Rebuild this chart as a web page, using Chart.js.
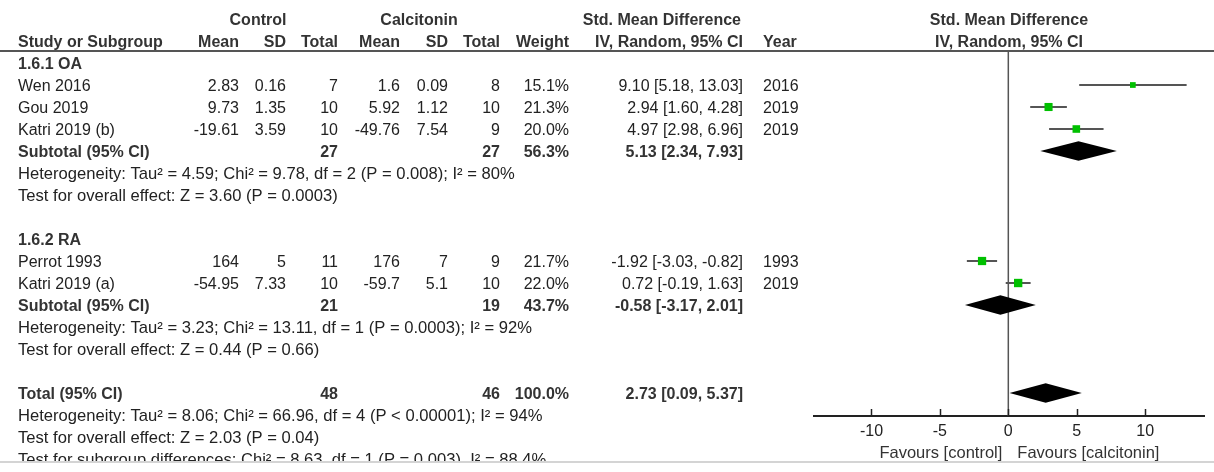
<!DOCTYPE html>
<html>
<head>
<meta charset="utf-8">
<script src="https://cdn.jsdelivr.net/npm/chart.js@4.4.1/dist/chart.umd.min.js"></script>
<style>
html, body { margin: 0; padding: 0; background: #fff; }
#wrap { position: relative; width: 1214px; height: 472px; }
</style>
</head>
<body>
<div id="wrap"><canvas id="forest"></canvas></div>
<script>
// study level data
const studies = ['Wen 2016', 'Gou 2019', 'Katri 2019 (b)', 'Perrot 1993', 'Katri 2019 (a)'];
const studyGroup = [0, 0, 0, 1, 1];
const controlMean = [2.83, 9.73, -19.61, 164, -54.95];
const controlSD = [0.16, 1.35, 3.59, 5, 7.33];
const controlN = [7, 10, 10, 11, 10];
const calcMean = [1.6, 5.92, -49.76, 176, -59.7];
const calcSD = [0.09, 1.12, 7.54, 7, 5.1];
const calcN = [8, 10, 9, 9, 10];
const weights = [15.1, 21.3, 20.0, 21.7, 22.0];
const smd = [9.10, 2.94, 4.97, -1.92, 0.72];
const ciLow = [5.18, 1.60, 2.98, -3.03, -0.19];
const ciHigh = [13.03, 4.28, 6.96, -0.82, 1.63];
const years = [2016, 2019, 2019, 1993, 2019];

// subgroups
const groupNames = ['1.6.1 OA', '1.6.2 RA'];
const groupControlN = [27, 21];
const groupCalcN = [27, 19];
const groupWeight = [56.3, 43.7];
const groupSmd = [5.13, -0.58];
const groupLow = [2.34, -3.17];
const groupHigh = [7.93, 2.01];
const groupHet = [
    'Heterogeneity: Tau² = 4.59; Chi² = 9.78, df = 2 (P = 0.008); I² = 80%',
    'Heterogeneity: Tau² = 3.23; Chi² = 13.11, df = 1 (P = 0.0003); I² = 92%'
];
const groupEffect = [
    'Test for overall effect: Z = 3.60 (P = 0.0003)',
    'Test for overall effect: Z = 0.44 (P = 0.66)'
];

// overall
const totalControlN = 48;
const totalCalcN = 46;
const totalWeight = 100.0;
const totalSmd = 2.73;
const totalLow = 0.09;
const totalHigh = 5.37;
const totalNotes = [
    'Heterogeneity: Tau² = 8.06; Chi² = 66.96, df = 4 (P < 0.00001); I² = 94%',
    'Test for overall effect: Z = 2.03 (P = 0.04)',
    'Test for subgroup differences: Chi² = 8.63, df = 1 (P = 0.003), I² = 88.4%'
];

const xTicks = [-10, -5, 0, 5, 10];
const favours = ['Favours [control]', 'Favours [calcitonin]'];

// rows of the table (row number = position on the y scale)
const studyRow = [];
const groupRow = [];
let r = 0;
groupNames.forEach((g, gi) => {
    const start = r;
    r++;
    studies.forEach((s, i) => {
        if (studyGroup[i] === gi) studyRow[i] = r++;
    });
    groupRow.push({ head: start, sub: r, het: r + 1, eff: r + 2 });
    r += 4;
});
const totalRow = r;

const FONT = '"Liberation Sans", Arial, sans-serif';
const fmt2 = v => v.toFixed(2);
const ciText = (e, lo, hi) => `${fmt2(e)} [${fmt2(lo)}, ${fmt2(hi)}]`;

const col = {
    name: 18, cMean: 239, cSD: 286, cN: 338, tMean: 400, tSD: 448, tN: 500,
    weight: 569, ci: 743, year: 763
};

function desenharTabela(chart) {
    const ctx = chart.ctx;
    const y = chart.scales.y;
    const x = chart.scales.x;
    const area = chart.chartArea;

    const txt = (s, px, row, align, bold, size) => {
        ctx.font = `${bold ? 'bold ' : ''}${size || 16}px ${FONT}`;
        ctx.fillStyle = bold ? '#333' : '#222';
        ctx.textAlign = align;
        ctx.textBaseline = 'alphabetic';
        ctx.fillText(s, px, y.getPixelForValue(row) + 6);
    };

    ctx.save();
    // headers
    txt('Control', 258, -2, 'center', true);
    txt('Calcitonin', 419, -2, 'center', true);
    txt('Std. Mean Difference', col.ci - 2, -2, 'right', true);
    txt('Study or Subgroup', col.name, -1, 'left', true);
    txt('Mean', col.cMean, -1, 'right', true);
    txt('SD', col.cSD, -1, 'right', true);
    txt('Total', col.cN, -1, 'right', true);
    txt('Mean', col.tMean, -1, 'right', true);
    txt('SD', col.tSD, -1, 'right', true);
    txt('Total', col.tN, -1, 'right', true);
    txt('Weight', col.weight, -1, 'right', true);
    txt('IV, Random, 95% CI', col.ci, -1, 'right', true);
    txt('Year', col.year, -1, 'left', true);
    const mid = (area.left + area.right) / 2;
    txt('Std. Mean Difference', mid, -2, 'center', true);
    txt('IV, Random, 95% CI', mid, -1, 'center', true);

    // studies
    studies.forEach((s, i) => {
        const row = studyRow[i];
        txt(s, col.name, row, 'left');
        txt(String(controlMean[i]), col.cMean, row, 'right');
        txt(String(controlSD[i]), col.cSD, row, 'right');
        txt(String(controlN[i]), col.cN, row, 'right');
        txt(String(calcMean[i]), col.tMean, row, 'right');
        txt(String(calcSD[i]), col.tSD, row, 'right');
        txt(String(calcN[i]), col.tN, row, 'right');
        txt(weights[i].toFixed(1) + '%', col.weight, row, 'right');
        txt(ciText(smd[i], ciLow[i], ciHigh[i]), col.ci, row, 'right');
        txt(String(years[i]), col.year, row, 'left');
    });

    // subgroups
    groupNames.forEach((g, gi) => {
        const gr = groupRow[gi];
        txt(g, col.name, gr.head, 'left', true);
        txt('Subtotal (95% CI)', col.name, gr.sub, 'left', true);
        txt(String(groupControlN[gi]), col.cN, gr.sub, 'right', true);
        txt(String(groupCalcN[gi]), col.tN, gr.sub, 'right', true);
        txt(groupWeight[gi].toFixed(1) + '%', col.weight, gr.sub, 'right', true);
        txt(ciText(groupSmd[gi], groupLow[gi], groupHigh[gi]), col.ci, gr.sub, 'right', true);
        txt(groupHet[gi], col.name, gr.het, 'left', false, 16.6);
        txt(groupEffect[gi], col.name, gr.eff, 'left', false, 16.6);
    });

    // total
    txt('Total (95% CI)', col.name, totalRow, 'left', true);
    txt(String(totalControlN), col.cN, totalRow, 'right', true);
    txt(String(totalCalcN), col.tN, totalRow, 'right', true);
    txt(totalWeight.toFixed(1) + '%', col.weight, totalRow, 'right', true);
    txt(ciText(totalSmd, totalLow, totalHigh), col.ci, totalRow, 'right', true);
    totalNotes.forEach((n, i) => txt(n, col.name, totalRow + 1 + i, 'left', false, 16.6));

    // favours labels under the axis
    const x0 = x.getPixelForValue(0);
    ctx.font = `16.5px ${FONT}`;
    ctx.fillStyle = '#333';
    ctx.textBaseline = 'alphabetic';
    ctx.textAlign = 'right';
    ctx.fillText(favours[0], x0 - 6, area.bottom + 42);
    ctx.textAlign = 'left';
    ctx.fillText(favours[1], x0 + 9, area.bottom + 42);

    // header rule
    ctx.strokeStyle = '#555';
    ctx.lineWidth = 2;
    ctx.beginPath();
    ctx.moveTo(0, area.top - 1);
    ctx.lineTo(chart.width, area.top - 1);
    ctx.stroke();

    // tick marks pointing up
    ctx.strokeStyle = '#222';
    ctx.lineWidth = 1.5;
    x.ticks.forEach(t => {
        const px = Math.round(x.getPixelForValue(t.value)) + 0.5;
        ctx.beginPath();
        ctx.moveTo(px, area.bottom);
        ctx.lineTo(px, area.bottom - 7);
        ctx.stroke();
    });

    // bottom frame of the picture
    ctx.fillStyle = '#fff';
    ctx.fillRect(0, 462, chart.width, chart.height - 462);
    ctx.fillStyle = '#d4d4d4';
    ctx.fillRect(0, 461, chart.width, 2);
    ctx.restore();
}

function desenharDiamante(chart, est, lo, hi, row) {
    const ctx = chart.ctx;
    const x = chart.scales.x;
    const y = chart.scales.y;
    const cy = y.getPixelForValue(row);
    const h = y.getPixelForValue(row + 0.44) - cy;
    ctx.beginPath();
    ctx.moveTo(x.getPixelForValue(lo), cy);
    ctx.lineTo(x.getPixelForValue(est), cy - h);
    ctx.lineTo(x.getPixelForValue(hi), cy);
    ctx.lineTo(x.getPixelForValue(est), cy + h);
    ctx.closePath();
    ctx.fill();
}

const forestPlugin = {
    id: 'forest',
    beforeDatasetsDraw(chart) {
        const ctx = chart.ctx;
        const area = chart.chartArea;
        const px = chart.scales.x.getPixelForValue(0);
        ctx.save();
        ctx.strokeStyle = '#555';
        ctx.lineWidth = 1.5;
        ctx.beginPath();
        ctx.moveTo(px, area.top);
        ctx.lineTo(px, area.bottom);
        ctx.stroke();
        ctx.restore();
    },
    afterDatasetsDraw(chart) {
        const ctx = chart.ctx;
        ctx.save();
        ctx.fillStyle = '#000';
        groupNames.forEach((g, gi) => {
            desenharDiamante(chart, groupSmd[gi], groupLow[gi], groupHigh[gi], groupRow[gi].sub);
        });
        desenharDiamante(chart, totalSmd, totalLow, totalHigh, totalRow);
        ctx.restore();
    },
    afterDraw(chart) {
        desenharTabela(chart);
    }
};

const ciSets = studies.map((s, i) => ({
    data: [{ x: ciLow[i], y: studyRow[i] }, { x: ciHigh[i], y: studyRow[i] }],
    showLine: true,
    borderColor: '#555',
    borderWidth: 2,
    pointRadius: 0,
    order: 2
}));

const squareSet = {
    data: studies.map((s, i) => ({ x: smd[i], y: studyRow[i] })),
    pointStyle: 'rect',
    pointRadius: weights.map(w => (w * 0.38) / Math.SQRT2),
    backgroundColor: '#00c000',
    borderWidth: 0,
    order: 1
};

new Chart(document.getElementById('forest'), {
    type: 'scatter',
    data: { datasets: [...ciSets, squareSet] },
    options: {
        responsive: true,
        maintainAspectRatio: false,
        animation: false,
        events: [],
        layout: { padding: { left: 814, right: 10, top: 52, bottom: 0 } },
        plugins: { legend: { display: false }, tooltip: { enabled: false } },
        scales: {
            x: {
                type: 'linear',
                min: -14.2,
                max: 14.3,
                afterBuildTicks: s => { s.ticks = xTicks.map(v => ({ value: v })); },
                afterFit: s => { s.height = 56; },
                grid: { display: false, drawTicks: false },
                border: { display: true, color: '#222', width: 2 },
                ticks: { color: '#222', font: { family: FONT, size: 16 }, padding: 6, maxRotation: 0 }
            },
            y: {
                type: 'linear',
                display: false,
                reverse: true,
                min: -0.5,
                max: 16.045
            }
        }
    },
    plugins: [forestPlugin]
});
</script>
</body>
</html>
